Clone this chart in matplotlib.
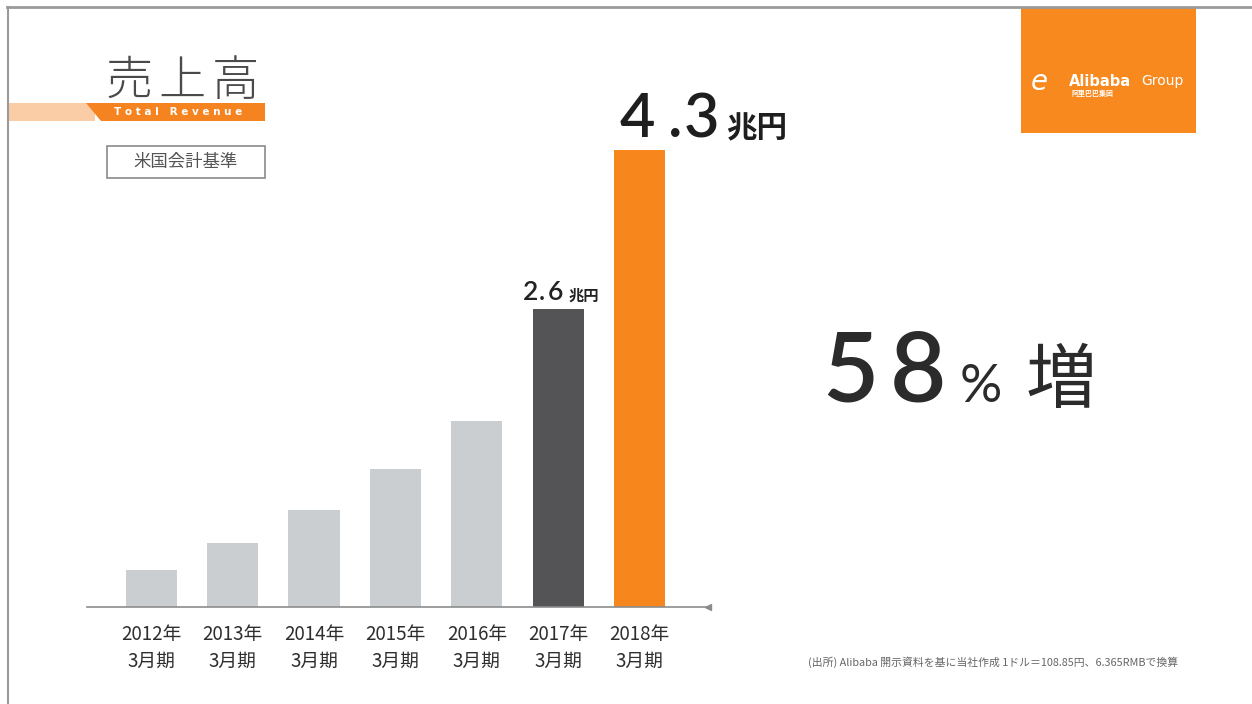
import matplotlib
matplotlib.use("Agg")
import matplotlib.pyplot as plt
from matplotlib.patches import Rectangle, Polygon

plt.rcParams['font.family'] = ['Noto Sans CJK JP', 'DejaVu Sans']

# データ (兆円, 図から読み取り)
years = ['2012年', '2013年', '2014年', '2015年', '2016年', '2017年', '2018年']
period = '3月期'
revenue = [0.35, 0.60, 0.91, 1.30, 1.75, 2.80, 4.30]
bar_colors = ['#cbced1'] * 5 + ['#545456', '#f7861c']
label_2017 = '2.6'
label_2018 = '4.3'
growth = '58'

W, H = 1252, 704
fig = plt.figure(figsize=(W / 100, H / 100), dpi=100)
fig.patch.set_facecolor('white')
num_font = ['Lato', 'DejaVu Sans']


def fx(x):
    return x / W


def fy(y):
    return 1 - y / H


# 枠線
fig.add_artist(plt.Line2D([fx(7), 1], [fy(7), fy(7)], color='#9a9a9a', lw=2))
fig.add_artist(plt.Line2D([fx(8), fx(8)], [fy(7), 0], color='#9a9a9a', lw=1.5))

# グラフ本体
ax = fig.add_axes([fx(87), fy(607), fx(708) - fx(87), (607 - 150) / H])
x = list(range(len(years)))
ax.bar(x, revenue, width=0.63, color=bar_colors, zorder=2)
ax.set_xlim(-0.79, 6.84)
ax.set_ylim(0, 4.3)
for s in ['top', 'right', 'left']:
    ax.spines[s].set_visible(False)
ax.spines['bottom'].set_color('#8c8c8c')
ax.spines['bottom'].set_linewidth(1.2)
ax.set_yticks([])
ax.set_xticks(x)
ax.set_xticklabels([f'{y}\n{period}' for y in years], fontsize=13.5,
                   color='#2e2e2e', linespacing=1.4)
ax.tick_params(axis='x', length=0, pad=12)
ax.plot([6.84], [0], marker='<', color='#8c8c8c', markersize=5,
        clip_on=False)

# 値ラベル
i17, i18 = 5, 6
for ch, dx in zip(label_2017, [-10, 6, 15]):
    ax.annotate(ch, xy=(i17 - 0.315, revenue[i17]), xytext=(dx, 9),
                textcoords='offset pixels', ha='left', va='baseline',
                fontsize=19, color='#222222', family=num_font, weight='semibold')
ax.annotate('兆円', xy=(i17 - 0.315, revenue[i17]), xytext=(36, 9),
            textcoords='offset pixels', ha='left', va='baseline',
            fontsize=11, color='#222222', weight='bold')

for ch, dx in zip(label_2018, [6, 54, 70]):
    ax.annotate(ch, xy=(i18 - 0.315, revenue[i18]), xytext=(dx, 13),
                textcoords='offset pixels', ha='left', va='baseline',
                fontsize=44, color='#1e1e1e', family=num_font, weight='semibold')
ax.annotate('兆円', xy=(i18 - 0.315, revenue[i18]), xytext=(112, 13),
            textcoords='offset pixels', ha='left', va='baseline',
            fontsize=22, color='#1e1e1e', weight='bold')

# 58%増
fig.text(fx(822), fy(402), growth[0], fontsize=70, color='#2b2b2b',
         family=num_font, weight='semibold', va='baseline')
fig.text(fx(890), fy(402), growth[1], fontsize=70, color='#2b2b2b',
         family=num_font, weight='semibold', va='baseline')
fig.text(fx(960), fy(402), '%', fontsize=38, color='#2b2b2b',
         family=num_font, va='baseline')
fig.text(fx(1026), fy(402), '増', fontsize=51, color='#2b2b2b',
         va='baseline')

# タイトル
for ch, px in zip('売上高', [106, 158, 212]):
    fig.text(fx(px), fy(95), ch, fontsize=34, color='#4a4a4a',
             weight='light', va='baseline')
fig.add_artist(Rectangle((fx(8), fy(121)), fx(95) - fx(8), (121 - 103) / H,
                         transform=fig.transFigure, color='#fbcda6', lw=0))
fig.add_artist(Polygon([(fx(86), fy(103)), (fx(265), fy(103)),
                        (fx(265), fy(121)), (fx(101), fy(121))],
                       closed=True, transform=fig.transFigure,
                       color='#f5831f', lw=0))
fig.text(fx(114), fy(112), 'T o t a l   R e v e n u e', fontsize=7.5,
         color='white', weight='bold', va='center', ha='left',
         family=['DejaVu Sans'])

fig.add_artist(Rectangle((fx(107), fy(178)), fx(265) - fx(107),
                         (178 - 146) / H, transform=fig.transFigure,
                         fill=False, ec='#8a8a8a', lw=1.2))
fig.text(fx(186), fy(162), '米国会計基準', fontsize=12.5, color='#555555',
         ha='center', va='center')

# ロゴ
fig.add_artist(Rectangle((fx(1021), fy(133)), fx(1196) - fx(1021),
                         (133 - 8) / H, transform=fig.transFigure,
                         color='#f7891f', lw=0))
fig.text(fx(1031), fy(82), 'e', fontsize=20, color='white', style='italic',
         va='center', family=['DejaVu Sans'])
fig.text(fx(1069), fy(81), 'Alibaba', fontsize=10.5, color='white',
         weight='bold', va='center', family=['DejaVu Sans'])
fig.text(fx(1141), fy(81), 'Group', fontsize=10, color='white',
         va='center', family=['DejaVu Sans'])
fig.text(fx(1072), fy(93), '阿里巴巴集团', fontsize=5, color='white',
         va='center', weight='bold')

# 出所
fig.text(fx(808), fy(662), '(出所) Alibaba 開示資料を基に当社作成 1ドル＝108.85円、6.365RMBで換算',
         fontsize=7.8, color='#666666', va='center', ha='left')

fig.savefig('out.png', dpi=100, facecolor='white')
